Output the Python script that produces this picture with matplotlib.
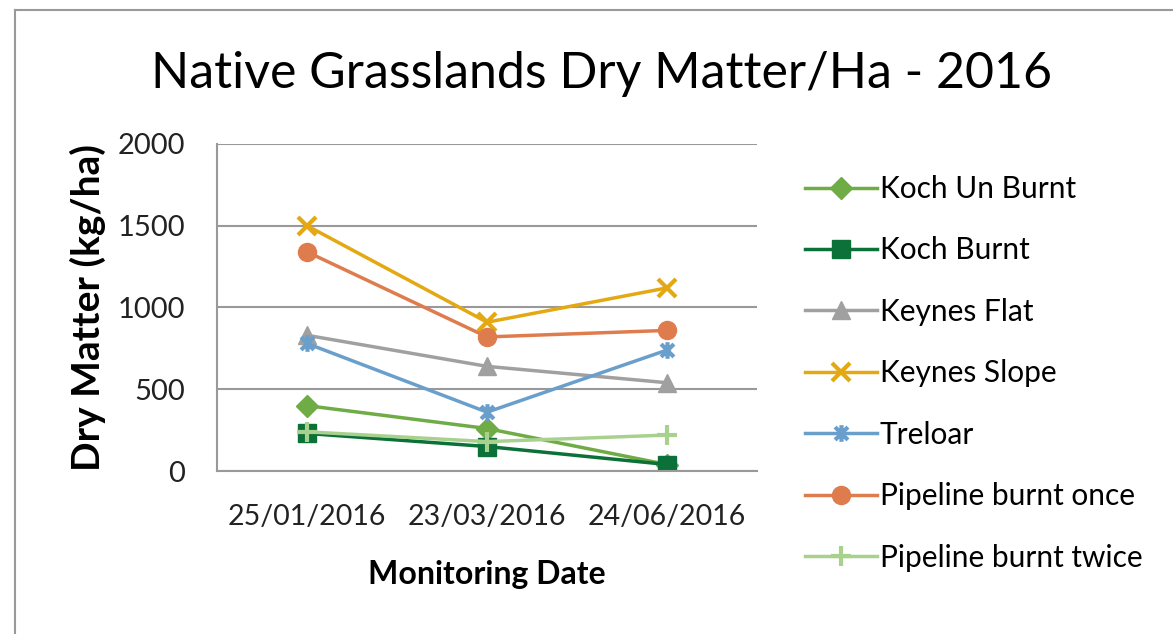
import matplotlib
matplotlib.use("Agg")
import matplotlib.pyplot as plt
from matplotlib.lines import Line2D
from matplotlib.path import Path

dates = ["25/01/2016", "23/03/2016", "24/06/2016"]
koch_un_burnt = [400, 260, 40]
koch_burnt = [230, 150, 40]
keynes_flat = [830, 640, 540]
keynes_slope = [1500, 910, 1120]
treloar = [780, 360, 740]
pipeline_once = [1340, 820, 860]
pipeline_twice = [240, 180, 220]

# excel style "star": an x with a vertical bar through it
star = Path([(-1, -1), (1, 1), (-1, 1), (1, -1), (0, -1.3), (0, 1.3)],
            [Path.MOVETO, Path.LINETO, Path.MOVETO, Path.LINETO,
             Path.MOVETO, Path.LINETO])

series = [
    ("Koch Un Burnt", koch_un_burnt, "#6FAC45", "D", 11),
    ("Koch Burnt", koch_burnt, "#0B7139", "s", 13),
    ("Keynes Flat", keynes_flat, "#A0A0A0", "^", 13),
    ("Keynes Slope", keynes_slope, "#E3A812", "x", 13),
    ("Treloar", treloar, "#6A9FCC", star, 12),
    ("Pipeline burnt once", pipeline_once, "#DF7C4E", "o", 13),
    ("Pipeline burnt twice", pipeline_twice, "#A9D18E", "+", 15),
]

plt.rcParams["font.family"] = ["Lato", "DejaVu Sans"]

fig = plt.figure(figsize=(11.73, 6.34), dpi=100)
ax = fig.add_axes([0.185, 0.257, 0.4605, 0.516])

x = range(len(dates))
for name, vals, color, marker, ms in series:
    thin = marker in ("x", "+") or marker is star
    ax.plot(x, vals, color=color, lw=2.5, marker=marker, markersize=ms,
            markeredgewidth=3 if thin else 1,
            markeredgecolor=color, markerfacecolor=color, label=name)

ax.set_xlim(-0.5, 2.5)
ax.set_ylim(0, 2000)
ax.set_yticks([0, 500, 1000, 1500, 2000])
ax.set_xticks(list(x))
ax.set_xticklabels(dates)
ax.tick_params(axis="x", length=0, labelsize=20.5, colors="#222222", pad=24)
ax.tick_params(axis="y", length=0, labelsize=21, colors="#222222", pad=23)
ax.grid(axis="y", color="#999999", lw=1.5)
ax.set_axisbelow(True)
for side in ["top", "right"]:
    ax.spines[side].set_visible(False)
ax.spines["left"].set_color("#999999")
ax.spines["left"].set_linewidth(1.5)
ax.spines["bottom"].set_color("#999999")
ax.spines["bottom"].set_linewidth(1.5)

ax.set_xlabel("Monitoring Date", fontsize=23, fontweight="bold", labelpad=21)
ax.set_ylabel("Dry Matter (kg/ha)", fontsize=28, fontweight="bold", labelpad=8)
fig.suptitle("Native Grasslands Dry Matter/Ha - 2016", fontsize=36,
             x=0.513, y=0.92)

ax.legend(loc="upper left", bbox_to_anchor=(1.089, 0.905), frameon=False,
          fontsize=21.5, handlelength=2.4, handletextpad=0.1,
          labelspacing=1.12, borderaxespad=0, borderpad=0)

# chart border
fig.add_artist(Line2D([0.013, 1.0], [0.984, 0.984], color="#999999", lw=1.5))
fig.add_artist(Line2D([0.013, 0.013], [0.0, 0.984], color="#999999", lw=1.5))

fig.savefig("out.png", dpi=100)
